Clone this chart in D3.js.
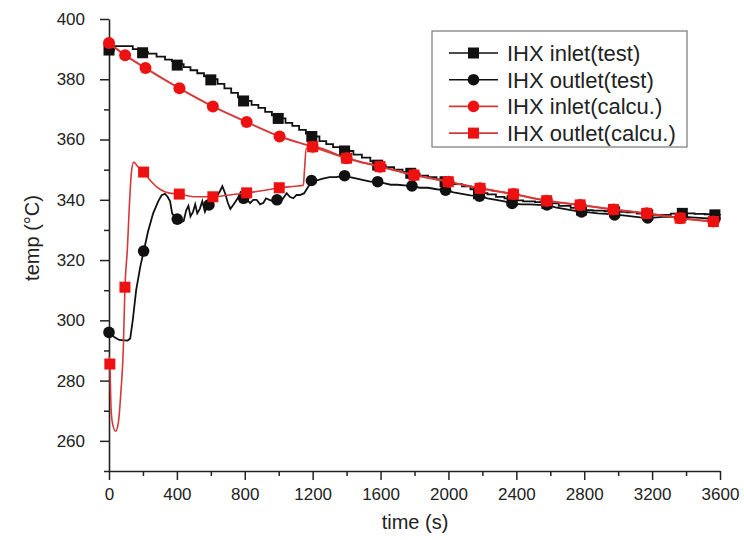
<!DOCTYPE html>
<html>
<head>
<meta charset="utf-8">
<script src="https://cdnjs.cloudflare.com/ajax/libs/d3/7.8.5/d3.min.js"></script>
<style>
body { margin: 0; background: #fff; }
text { font-family: "Liberation Sans", Arial, sans-serif; fill: #222; }
</style>
</head>
<body>
<div id="chart"></div>
<script>
//////////////////// data: [time (s), temp (°C)] ////////////////////

var inletTest = [[0,389.5],[30,391],[140,390],[180,389],[230,388.5],[280,387.5],[330,386.5],[370,386],[400,385],
  [440,384],[480,383],[520,382],[560,381],[600,380],[640,378.5],[680,377],[720,375.5],[760,374],[795,372.8],
  [840,371.5],[880,370.5],[920,369.2],[960,368],[1000,367],[1040,365.5],[1080,364.5],[1120,363.2],[1160,362],
  [1195,361],[1240,359.5],[1280,358.5],[1320,357.5],[1360,356.8],[1390,356.2],[1440,355],[1490,354],[1540,352.8],
  [1585,351.5],[1630,350.8],[1680,350],[1730,349.3],[1780,348.8],[1830,348],[1880,347.5],[1930,346.8],[1980,346],
  [2030,345.2],[2080,344.5],[2130,343.5],[2180,342.2],[2230,341.8],[2280,341],[2330,340.5],[2375,339.8],
  [2440,339.5],[2510,339.2],[2580,338.8],[2650,338],[2720,337.3],[2785,336.6],[2850,336.4],[2920,336.2],
  [2980,336],[3050,335.8],[3110,335.4],[3175,335],[3240,335],[3310,335.4],[3380,335.5],[3450,335.3],
  [3510,335.2],[3570,335],[3600,334.8]];
var inletTestMarks = [[0,389.7],[198,388.8],[402,384.7],[600,379.8],[793,372.8],[997,367],[1195,361],[1388,356.2],
  [1583,351.5],[1778,348.8],[1980,346],[2177,342],[2375,339.7],[2580,338.8],[2784,336.6],[2979,336],
  [3174,335],[3378,335.5],[3570,335]];

var outletTest = [[0,296],[30,294.5],[60,293.5],[110,293.3],[125,294],[140,300],[160,310],[185,318],[205,323],
  [230,329.5],[260,335.5],[290,339.5],[310,341.5],[330,342],[345,341],[360,339.5],[372,335.5],[390,334],
  [408,333.5],[425,332.5],[440,333],[455,336.5],[468,338],[480,334.5],[495,336],[508,338.5],[520,335.5],
  [535,337],[550,339.5],[565,336],[584,338.3],[600,337.5],[620,340],[640,341.5],[655,343],[668,344.5],
  [685,342],[700,339],[715,337],[735,338.5],[758,340.5],[775,342.5],[793,341],[815,340],[831,338.9],
  [850,340],[870,340],[890,338.5],[910,339],[925,340.5],[945,340],[970,339.5],[997,339.6],[1020,340],
  [1047,342.2],[1065,341],[1086,340.5],[1105,341.6],[1125,341.6],[1150,342.2],[1170,344],[1196,346.2],
  [1230,346.5],[1260,347],[1300,347.5],[1340,347.5],[1388,348],[1420,347.5],[1460,347],[1500,346.5],
  [1540,346],[1583,346],[1620,345.5],[1660,345],[1700,345],[1740,344.8],[1785,344.6],[1830,344],[1880,344],
  [1930,343.5],[1983,343.2],[2030,342.5],[2080,342],[2130,341.5],[2183,341.2],[2230,340.5],[2280,340],
  [2330,339.5],[2375,338.8],[2430,338.5],[2480,338.5],[2530,338.3],[2580,338.3],[2630,337.5],[2680,337],
  [2730,336.5],[2784,336],[2830,335.8],[2880,335.5],[2930,335.3],[2979,335],[3030,334.8],[3080,334.5],
  [3130,334.2],[3174,334],[3230,334.2],[3280,334.4],[3330,334.3],[3378,334.4],[3430,334.2],[3480,334],
  [3530,333.8],[3580,333.6],[3600,333.5]];
var outletTestMarks = [[0,296],[204,323],[402,333.6],[589,338.3],[793,340.5],[990,340],[1193,346.4],[1388,348],
  [1583,346],[1785,344.6],[1983,343.2],[2183,341.2],[2375,338.8],[2580,338.3],[2784,336],[2979,335],
  [3174,334],[3378,334.4],[3570,333.8]];

var inletCalc = [[0,392],[95,388],[215,383.7],[415,377],[612,371],[811,365.8],[1005,361],[1200,357.6],[1400,353.8],
  [1597,351],[1797,348.2],[1999,346],[2186,343.8],[2383,341.9],[2579,339.7],[2776,338.3],[2972,336.8],
  [3168,335.5],[3365,333.9],[3561,332.8],[3600,332.6]];
var inletCalcMarks = [[0,392],[95,388],[215,383.7],[415,377],[612,371],[811,365.8],[1005,361],[1200,357.6],
  [1400,353.8],[1597,351],[1797,348.2],[1999,346],[2186,343.8],[2383,341.9],[2579,339.7],[2776,338.3],
  [2972,336.8],[3168,335.5],[3365,333.9],[3561,332.8]];

var outletCalc = [[0,288],[5,285.5],[12,271],[20,266],[39,263.2],[55,266],[71,277],[84,290],[94,311],[108,323.4],
  [120,338],[132,349],[145,352.5],[170,351],[204,349.2],[250,346],[300,343.5],[350,342.3],[414,341.9],
  [500,341],[612,341],[700,341.5],[811,342.3],[900,343],[1003,344],[1100,344.5],[1145,344.8],[1152,350],
  [1162,357],[1200,357.6],[1400,353.8],[1597,351],[1797,348.2],[1999,346],[2186,343.8],[2383,341.9],
  [2579,339.7],[2776,338.3],[2972,336.8],[3168,335.5],[3365,333.9],[3561,332.8],[3600,332.6]];
var outletCalcMarks = [[5,285.5],[94,311],[204,349.2],[414,341.9],[612,341],[811,342.3],[1003,344],[1200,357.6],
  [1400,353.8],[1597,351],[1797,348.2],[1999,346],[2186,343.8],[2383,341.9],[2579,339.7],[2776,338.3],
  [2972,336.8],[3168,335.5],[3365,333.9],[3561,332.8]];

var xTicks = [0,400,800,1200,1600,2000,2400,2800,3200,3600];
var xMinor = [200,600,1000,1400,1800,2200,2600,3000,3400];
var yTicks = [260,280,300,320,340,360,380,400];
var yMinor = [250,270,290,310,330,350,370,390];

var legendNames = ["IHX inlet(test)","IHX outlet(test)","IHX inlet(calcu.)","IHX outlet(calcu.)"];

//////////////////// svg ////////////////////

var svgWidth = 744, svgHeight = 540;
var plot = {left: 109, right: 720, top: 19, bottom: 471};

var svg = d3.select("#chart").append("svg")
  .attr("width", svgWidth).attr("height", svgHeight);

var xScale = d3.scaleLinear().domain([0, 3600]).range([plot.left, plot.right]);
var yScale = d3.scaleLinear().domain([250, 400]).range([plot.bottom, plot.top]);

var black = "#111";
var red = "#ee1111";
var redLine = "#d43a3a";

//////////////////// axes ////////////////////

var xAxisG = svg.append("g").attr("transform", `translate(0,${plot.bottom})`);
xAxisG.call(d3.axisBottom(xScale).tickValues(xTicks).tickSize(9).tickPadding(8).tickSizeOuter(0).tickFormat(d3.format("d")));
svg.append("g").attr("transform", `translate(0,${plot.bottom})`)
  .call(d3.axisBottom(xScale).tickValues(xMinor).tickSize(5).tickSizeOuter(0).tickFormat(""))
  .select(".domain").remove();

var yAxisG = svg.append("g").attr("transform", `translate(${plot.left},0)`);
yAxisG.call(d3.axisLeft(yScale).tickValues(yTicks).tickSize(9).tickPadding(15).tickSizeOuter(0));
svg.append("g").attr("transform", `translate(${plot.left},0)`)
  .call(d3.axisLeft(yScale).tickValues(yMinor).tickSize(5).tickSizeOuter(0).tickFormat(""))
  .select(".domain").remove();

svg.selectAll(".domain").attr("stroke", "#222").attr("stroke-width", 1.6);
svg.selectAll(".tick line").attr("stroke", "#222").attr("stroke-width", 1.5);
svg.selectAll(".tick text").attr("font-size", 17).attr("font-family", "Liberation Sans, Arial, sans-serif").attr("fill", "#222");

svg.append("text")
  .attr("x", 415).attr("y", 529)
  .attr("text-anchor", "middle").attr("font-size", 20)
  .text("time (s)");

svg.append("text")
  .attr("transform", "translate(39,238) rotate(-90)")
  .attr("text-anchor", "middle").attr("font-size", 20)
  .text("temp (°C)");

//////////////////// lines and markers ////////////////////

var stepLine = d3.line().x(d => xScale(d[0])).y(d => yScale(d[1])).curve(d3.curveStepAfter);
var plainLine = d3.line().x(d => xScale(d[0])).y(d => yScale(d[1]));
var smoothLine = d3.line().x(d => xScale(d[0])).y(d => yScale(d[1])).curve(d3.curveMonotoneX);

svg.append("path").datum(inletTest).attr("d", stepLine)
  .attr("fill", "none").attr("stroke", black).attr("stroke-width", 1.8);
svg.append("path").datum(outletTest).attr("d", plainLine)
  .attr("fill", "none").attr("stroke", black).attr("stroke-width", 1.8);

svg.selectAll(".sqTest").data(inletTestMarks).enter().append("rect")
  .attr("x", d => xScale(d[0]) - 5.5).attr("y", d => yScale(d[1]) - 5.5)
  .attr("width", 11).attr("height", 11).attr("fill", black);
svg.selectAll(".ciTest").data(outletTestMarks).enter().append("circle")
  .attr("cx", d => xScale(d[0])).attr("cy", d => yScale(d[1]))
  .attr("r", 5.8).attr("fill", black);

svg.append("path").datum(inletCalc).attr("d", smoothLine)
  .attr("fill", "none").attr("stroke", redLine).attr("stroke-width", 2);
svg.append("path").datum(outletCalc).attr("d", smoothLine)
  .attr("fill", "none").attr("stroke", redLine).attr("stroke-width", 1.6);

svg.selectAll(".ciCalc").data(inletCalcMarks).enter().append("circle")
  .attr("cx", d => xScale(d[0])).attr("cy", d => yScale(d[1]))
  .attr("r", 6).attr("fill", red);
svg.selectAll(".sqCalc").data(outletCalcMarks).enter().append("rect")
  .attr("x", d => xScale(d[0]) - 5.5).attr("y", d => yScale(d[1]) - 5.5)
  .attr("width", 11).attr("height", 11).attr("fill", red);

//////////////////// legend ////////////////////

var legend = svg.append("g");
legend.append("rect")
  .attr("x", 432).attr("y", 31).attr("width", 255).attr("height", 116)
  .attr("fill", "#fff").attr("stroke", "#777").attr("stroke-width", 1.2);

var legendColors = [black, black, redLine, redLine];
var legendMarkColors = [black, black, red, red];
var legendShapes = ["square", "circle", "circle", "square"];

legendNames.forEach(function (name, i) {
  var ly = 53 + i * 26.7;
  legend.append("line")
    .attr("x1", 449).attr("x2", 498).attr("y1", ly).attr("y2", ly)
    .attr("stroke", legendColors[i]).attr("stroke-width", 1.6);
  if (legendShapes[i] == "square") {
    legend.append("rect").attr("x", 468).attr("y", ly - 5.5).attr("width", 11).attr("height", 11)
      .attr("fill", legendMarkColors[i]);
  } else {
    legend.append("circle").attr("cx", 473.5).attr("cy", ly).attr("r", 5.8)
      .attr("fill", legendMarkColors[i]);
  }
  legend.append("text")
    .attr("x", 507).attr("y", ly + 8)
    .attr("font-size", 22)
    .text(name);
});
</script>
</body>
</html>
